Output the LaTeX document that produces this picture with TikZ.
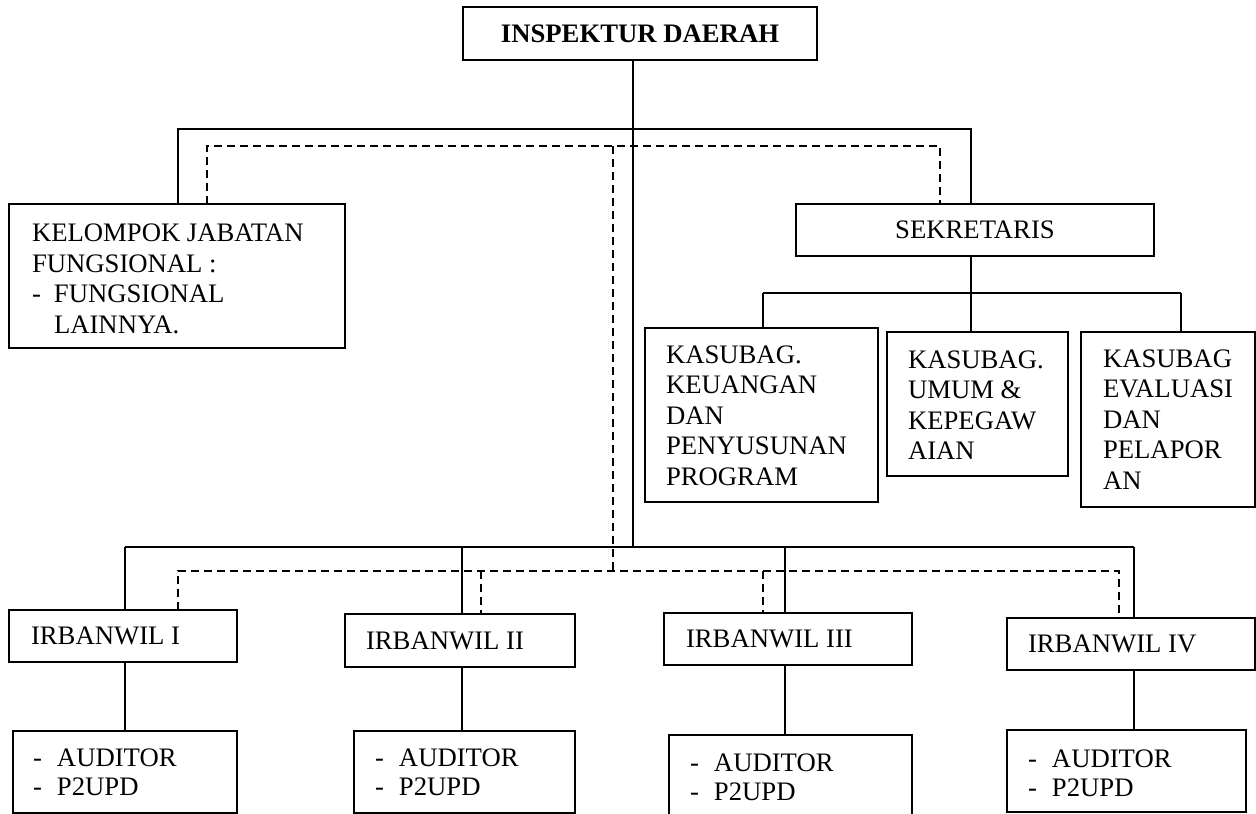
\documentclass[tikz,border=0pt]{standalone}
\usepackage{fontspec}
\setmainfont{Liberation Serif}
\newcommand\lns[1]{\vtop{\halign{##\hfil\cr#1\crcr}}}
\newcommand\orgbox[5]{\node[box,minimum width={(#4-#2)*1pt},minimum height={(#5-#3)*1pt}] (#1) at ({(#2+#4)/2},{(#3+#5)/2}) {};}
\tikzset{
  box/.style={draw, line width=1.6pt, inner sep=0pt, outer sep=0pt},
  txt/.style={inner sep=0pt, outer sep=0pt, font=\fontsize{26.7}{30.5}\selectfont},
  ltxt/.style={txt, font=\fontsize{26.7}{29}\selectfont},
  conn/.style={line width=1.6pt},
  dconn/.style={line width=1.6pt, dash pattern=on 8pt off 5pt}
}
\begin{document}
\begin{tikzpicture}[x=1pt,y=-1pt]
\useasboundingbox (0,0) rectangle (1256,814);
\clip (0,0) rectangle (1256,814);
\fill[white] (0,0) rectangle (1256,814);

% boxes
\orgbox{insp}{463}{7}{817}{60}
\orgbox{kel}{9}{204}{345}{348}
\orgbox{sek}{796}{204}{1154}{256}
\orgbox{kas1}{645}{328}{878}{502}
\orgbox{kas2}{887}{332}{1068}{476}
\orgbox{kas3}{1081}{332}{1255}{507}
\orgbox{irb1}{9}{610}{237}{662}
\orgbox{irb2}{345}{614}{575}{667}
\orgbox{irb3}{664}{613}{912}{665}
\orgbox{irb4}{1007}{618}{1255}{670}
\orgbox{aud1}{13}{731}{237}{813}
\orgbox{aud2}{354}{731}{575}{813}
\orgbox{aud3}{669}{735}{912}{830}
\orgbox{aud4}{1007}{730}{1246}{812}

% texts
\node[txt, font=\fontsize{26.7}{30.5}\selectfont\bfseries] (insp-t) at (insp.center) {INSPEKTUR DAERAH};
\node[txt] (sek-t) at (sek.center) {SEKRETARIS};
\node[txt, anchor=base west] (kel-t) at (32,241.5) {\lns{KELOMPOK JABATAN\cr FUNGSIONAL :\cr \makebox[22pt][l]{-}FUNGSIONAL\cr \hskip22pt LAINNYA.}};
\node[txt, anchor=base west] (kas1-t) at (666,363.3) {\lns{KASUBAG.\cr KEUANGAN\cr DAN\cr PENYUSUNAN\cr PROGRAM}};
\node[txt, anchor=base west] (kas2-t) at (908,368.3) {\lns{KASUBAG.\cr UMUM \&\cr KEPEGAW\cr AIAN}};
\node[txt, anchor=base west] (kas3-t) at (1103,367.3) {\lns{KASUBAG\cr EVALUASI\cr DAN\cr PELAPOR\cr AN}};
\node[txt, anchor=west] (irb1-t) at (31,636) {IRBANWIL I};
\node[txt, anchor=west] (irb2-t) at (366,640.5) {IRBANWIL II};
\node[txt, anchor=west] (irb3-t) at (686,639) {IRBANWIL III};
\node[txt, anchor=west] (irb4-t) at (1028,644) {IRBANWIL IV};
\node[ltxt, anchor=base west] (aud1-t) at (33,766) {\lns{\makebox[24pt][l]{-}AUDITOR\cr \makebox[24pt][l]{-}P2UPD}};
\node[ltxt, anchor=base west] (aud2-t) at (375,766) {\lns{\makebox[24pt][l]{-}AUDITOR\cr \makebox[24pt][l]{-}P2UPD}};
\node[ltxt, anchor=base west] (aud3-t) at (690,771) {\lns{\makebox[24pt][l]{-}AUDITOR\cr \makebox[24pt][l]{-}P2UPD}};
\node[ltxt, anchor=base west] (aud4-t) at (1028,767) {\lns{\makebox[24pt][l]{-}AUDITOR\cr \makebox[24pt][l]{-}P2UPD}};

% junction coordinates
\coordinate (mainbot) at (633,547);
\coordinate (tl) at (178,129);
\coordinate (tr) at (971,129);
\coordinate (dl) at (207,146);
\coordinate (dr) at (940,146);
\coordinate (dm) at (613,146);
\coordinate (dmb) at (613,571);
\coordinate (bl) at (125,547);
\coordinate (br) at (1134,547);
\coordinate (bdl) at (178,571);
\coordinate (bdr) at (1119,571);
\coordinate (sl) at (763,293);
\coordinate (sr) at (1181,293);
\coordinate (sm) at (971,293);

% solid connectors
\draw[conn] (insp.south -| mainbot) -- (mainbot);
\draw[conn] (kel.north -| tl) -- (tl) -- (tr) -- (sek.north -| tr);
\draw[conn] (bl) -- (br);
\draw[conn] (bl) -- (irb1.north -| bl);
\draw[conn] (462,547) -- (irb2.north -| 462,0);
\draw[conn] (785,547) -- (irb3.north -| 785,0);
\draw[conn] (br) -- (irb4.north -| br);
\draw[conn] (sek.south -| sm) -- (sm);
\draw[conn] (sl) -- (sr);
\draw[conn] (sl) -- (kas1.north -| sl);
\draw[conn] (sm) -- (kas2.north -| sm);
\draw[conn] (sr) -- (kas3.north -| sr);
\draw[conn] (irb1.south -| bl) -- (aud1.north -| bl);
\draw[conn] (irb2.south -| 462,0) -- (aud2.north -| 462,0);
\draw[conn] (irb3.south -| 785,0) -- (aud3.north -| 785,0);
\draw[conn] (irb4.south -| br) -- (aud4.north -| br);

% dashed connectors
\draw[dconn] (kel.north -| dl) -- (dl) -- (dr) -- (sek.north -| dr);
\draw[dconn] (dm) -- (dmb);
\draw[dconn] (irb1.north -| bdl) -- (bdl) -- (bdr) -- (irb4.north -| bdr);
\draw[dconn] (481,571) -- (irb2.north -| 481,0);
\draw[dconn] (763,571) -- (irb3.north -| 763,0);
\end{tikzpicture}
\end{document}
